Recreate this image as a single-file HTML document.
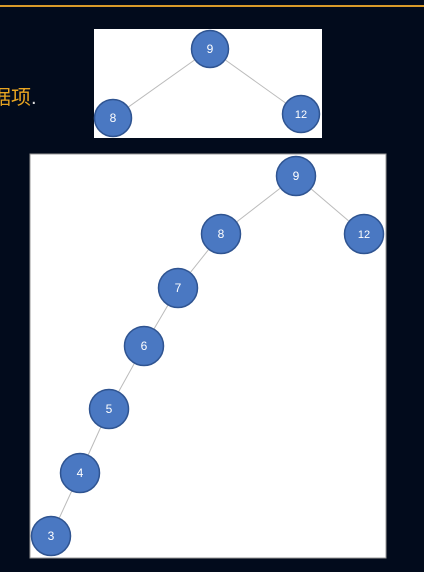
<!DOCTYPE html>
<html><head><meta charset="utf-8"><style>
html,body{margin:0;padding:0;width:424px;height:572px;overflow:hidden;background:#020b1c;}
svg{display:block}
</style></head><body>
<svg width="424" height="572" font-family="'Liberation Sans','Noto Sans CJK SC',sans-serif">
<rect width="424" height="572" fill="#020b1c"/>
<rect x="0" y="5" width="424" height="2" fill="#d89a2a"/>
<text x="-9" y="104" font-size="20" fill="#e9a521">据项<tspan fill="#ddd">.</tspan></text>
<rect x="94" y="29" width="228" height="109" fill="#fff"/>
<rect x="30" y="154" width="356" height="404" fill="#fff" stroke="#999"/>
<g id="g"></g>
</svg>
<script>
const smallNodes=[["9",210,49],["8",113,118],["12",301,114]];
const smallEdges=[[0,1],[0,2]];
const bigNodes=[["9",296,176],["8",221,234],["12",364,234],["7",178,288],["6",144,346],["5",109,409],["4",80,473],["3",51,536]];
const bigEdges=[[0,1],[0,2],[1,3],[3,4],[4,5],[5,6],[6,7]];
const g=document.getElementById('g');
const NS='http://www.w3.org/2000/svg';
function draw(nodes,edges,r){
  edges.forEach(([a,b])=>{
    const l=document.createElementNS(NS,'line');
    l.setAttribute('x1',nodes[a][1]);l.setAttribute('y1',nodes[a][2]);
    l.setAttribute('x2',nodes[b][1]);l.setAttribute('y2',nodes[b][2]);
    l.setAttribute('stroke','#bbb');l.setAttribute('stroke-width','1');
    
    
    g.appendChild(l);
  });
  nodes.forEach(([t,x,y])=>{
    const c=document.createElementNS(NS,'circle');
    c.setAttribute('cx',x);c.setAttribute('cy',y);c.setAttribute('r',r);
    c.setAttribute('fill','#4a78c2');c.setAttribute('stroke','#2f5491');c.setAttribute('stroke-width','1.5');
    
    
    g.appendChild(c);
    const tx=document.createElementNS(NS,'text');
    tx.setAttribute('x',x);tx.setAttribute('y',y+4);tx.setAttribute('text-anchor','middle');
    tx.setAttribute('font-size',t.length>1?'11':'12');tx.setAttribute('fill','#fff');
    tx.textContent=t;
    
    
    g.appendChild(tx);
  });
}
draw(smallNodes,smallEdges,18.5);
draw(bigNodes,bigEdges,19.5);
</script>
</body></html>
